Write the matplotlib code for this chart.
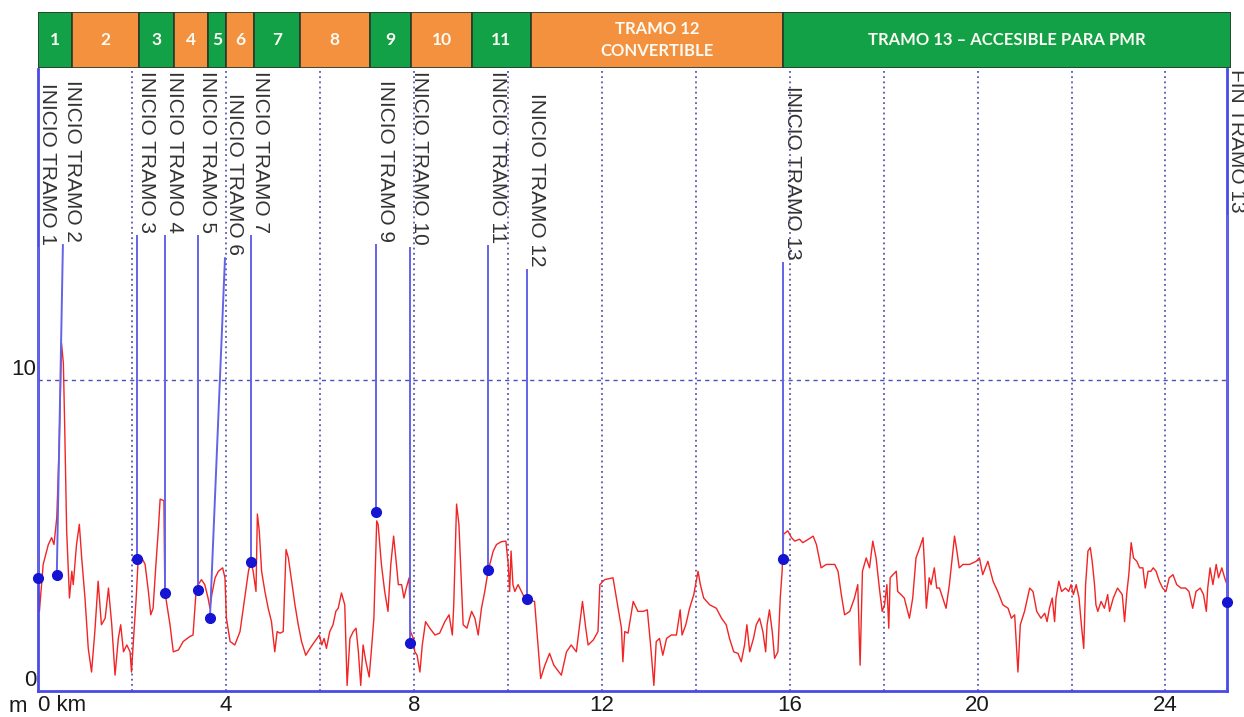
import matplotlib
matplotlib.use("Agg")
import matplotlib.pyplot as plt
from matplotlib.patches import Rectangle

# ── profile data (km, m) ─────────────────────────────────────────────
km = [
    0.00, 0.03, 0.11, 0.22, 0.29, 0.34, 0.40, 0.45, 0.50, 0.54, 0.57, 0.61, 0.67, 0.72, 0.75,
    0.82, 0.88, 0.93, 1.00, 1.07, 1.14, 1.21, 1.28, 1.35, 1.43, 1.50, 1.57, 1.64, 1.71, 1.76,
    1.82, 1.89, 1.96, 1.99, 2.03, 2.09, 2.13, 2.21, 2.28, 2.35, 2.40, 2.45, 2.51, 2.56, 2.60,
    2.68, 2.70, 2.81, 2.88, 2.99, 3.09, 3.23, 3.30, 3.36, 3.41, 3.48, 3.55, 3.62, 3.66, 3.70,
    3.77, 3.84, 3.93, 3.98, 4.01, 4.09, 4.19, 4.30, 4.40, 4.48, 4.53, 4.58, 4.64, 4.67, 4.71,
    4.76, 4.83, 4.90, 4.97, 5.04, 5.09, 5.15, 5.22, 5.28, 5.33, 5.40, 5.47, 5.54, 5.61, 5.70,
    5.79, 5.89, 5.99, 6.04, 6.09, 6.14, 6.21, 6.28, 6.34, 6.39, 6.46, 6.53, 6.58, 6.64, 6.71,
    6.77, 6.82, 6.87, 6.92, 6.98, 7.05, 7.10, 7.15, 7.21, 7.24, 7.31, 7.38, 7.45, 7.51, 7.57,
    7.63, 7.67, 7.74, 7.79, 7.84, 7.90, 7.93, 7.99, 8.02, 8.07, 8.13, 8.18, 8.25, 8.34, 8.45,
    8.55, 8.66, 8.75, 8.82, 8.85, 8.91, 8.96, 9.01, 9.05, 9.13, 9.23, 9.30, 9.37, 9.44, 9.51,
    9.58, 9.69, 9.76, 9.86, 9.96, 10.01, 10.04, 10.07, 10.11, 10.15, 10.22, 10.29, 10.36, 10.43, 10.57,
    10.65, 10.70, 10.79, 10.89, 10.98, 11.14, 11.25, 11.35, 11.46, 11.59, 11.66, 11.71, 11.82, 11.92, 11.96,
    12.06, 12.24, 12.35, 12.42, 12.45, 12.49, 12.56, 12.67, 12.77, 12.88, 12.97, 13.04, 13.11, 13.16, 13.23,
    13.30, 13.38, 13.48, 13.59, 13.67, 13.71, 13.79, 13.87, 13.96, 14.05, 14.10, 14.17, 14.30, 14.44, 14.55,
    14.65, 14.72, 14.81, 14.90, 14.97, 15.04, 15.09, 15.15, 15.23, 15.29, 15.36, 15.43, 15.49, 15.52, 15.57,
    15.63, 15.68, 15.75, 15.80, 15.84, 15.87, 15.96, 16.04, 16.11, 16.21, 16.28, 16.40, 16.50, 16.57, 16.67,
    16.78, 16.89, 16.96, 17.03, 17.10, 17.17, 17.28, 17.38, 17.45, 17.50, 17.55, 17.63, 17.70, 17.77, 17.84,
    17.91, 17.97, 18.02, 18.07, 18.11, 18.14, 18.20, 18.27, 18.30, 18.37, 18.44, 18.55, 18.62, 18.69, 18.77,
    18.84, 18.87, 18.91, 18.97, 19.01, 19.08, 19.13, 19.19, 19.26, 19.33, 19.40, 19.46, 19.51, 19.56, 19.61,
    19.69, 19.83, 19.97, 20.04, 20.11, 20.22, 20.33, 20.43, 20.54, 20.65, 20.72, 20.79, 20.86, 20.91, 21.00,
    21.11, 21.18, 21.26, 21.35, 21.43, 21.48, 21.53, 21.59, 21.64, 21.67, 21.73, 21.79, 21.87, 21.94, 21.99,
    22.04, 22.10, 22.16, 22.21, 22.26, 22.30, 22.35, 22.40, 22.44, 22.49, 22.52, 22.56, 22.63, 22.70, 22.77,
    22.81, 22.89, 22.98, 23.08, 23.13, 23.18, 23.22, 23.27, 23.32, 23.39, 23.45, 23.52, 23.57, 23.63, 23.69,
    23.74, 23.80, 23.87, 23.94, 24.01, 24.08, 24.16, 24.24, 24.33, 24.43, 24.50, 24.58, 24.65, 24.74, 24.81,
    24.87, 24.90, 24.95, 25.01, 25.08, 25.13, 25.20, 25.26, 25.31,
]
elev = [
    3.60, 2.56, 4.07, 4.71, 4.93, 4.71, 5.58, 7.84, 11.19, 10.54, 8.38, 5.15, 2.99, 3.85, 3.42,
    4.71, 5.36, 4.28, 2.99, 1.37, 0.61, 1.91, 3.53, 2.13, 2.34, 3.31, 2.13, 0.51, 1.69, 2.13,
    1.26, 1.48, 1.26, 0.61, 1.59, 2.99, 4.17, 4.28, 4.07, 3.20, 2.45, 2.66, 4.07, 5.15, 6.17,
    6.12, 3.20, 2.13, 1.26, 1.32, 1.59, 1.75, 1.80, 3.10, 3.42, 3.58, 3.42, 2.99, 2.66, 3.10,
    3.64, 3.85, 3.96, 3.64, 2.34, 1.59, 1.48, 1.91, 2.99, 3.85, 4.17, 3.85, 3.20, 5.69, 5.15,
    3.85, 3.20, 2.66, 2.23, 1.26, 1.91, 1.86, 1.91, 4.55, 4.28, 3.53, 2.77, 2.13, 1.59, 1.15,
    1.37, 1.59, 1.80, 1.48, 1.69, 1.37, 1.91, 2.13, 2.56, 2.66, 3.15, 2.77, 0.18, 1.69, 1.91,
    2.02, 1.26, 0.18, 1.48, 0.94, 0.45, 1.37, 2.34, 5.47, 5.36, 4.07, 3.20, 2.56, 4.07, 4.98,
    4.07, 3.42, 3.42, 2.99, 3.31, 3.64, 1.91, 1.69, 1.26, 1.15, 0.61, 1.48, 2.23, 2.02, 1.80,
    1.86, 2.23, 2.45, 1.80, 2.77, 6.01, 5.36, 3.53, 2.13, 2.02, 2.56, 2.34, 1.80, 2.66, 3.20,
    3.85, 4.50, 4.71, 4.80, 4.82, 4.07, 3.20, 4.50, 3.42, 3.20, 3.42, 3.20, 2.99, 2.93, 2.88,
    1.37, 0.40, 0.83, 1.21, 0.83, 0.51, 1.26, 1.48, 1.26, 2.88, 2.02, 1.48, 1.64, 1.91, 3.42,
    3.58, 3.64, 2.66, 2.02, 0.94, 1.91, 1.86, 2.88, 2.56, 2.56, 2.61, 1.48, 0.18, 1.59, 1.69,
    1.15, 1.69, 1.80, 1.80, 2.61, 1.80, 2.13, 2.66, 3.10, 3.85, 3.42, 2.99, 2.77, 2.66, 2.34,
    2.13, 1.69, 1.26, 1.21, 0.94, 1.48, 2.13, 1.26, 1.69, 2.13, 2.34, 1.91, 1.26, 2.13, 2.61,
    1.91, 1.05, 1.26, 2.99, 3.85, 5.04, 5.15, 4.93, 4.82, 4.88, 4.77, 4.88, 4.98, 4.71, 3.96,
    4.07, 4.07, 4.07, 3.85, 3.10, 2.45, 2.56, 2.99, 3.42, 0.83, 3.85, 4.28, 3.96, 4.82, 4.28,
    3.31, 2.56, 2.77, 3.42, 2.02, 3.64, 3.74, 3.85, 3.20, 3.10, 2.99, 2.34, 2.99, 4.28, 4.61,
    4.93, 4.07, 2.66, 3.64, 3.42, 3.96, 3.31, 3.31, 2.99, 2.66, 3.42, 4.28, 4.98, 4.50, 3.96,
    4.07, 4.07, 4.17, 4.28, 3.74, 4.17, 3.53, 3.20, 2.77, 2.66, 2.34, 2.45, 0.61, 2.13, 2.56,
    3.31, 3.20, 2.56, 2.34, 2.50, 2.23, 2.66, 2.99, 2.23, 2.99, 3.53, 3.20, 3.31, 3.20, 3.42,
    3.10, 3.42, 2.99, 2.13, 1.37, 3.42, 4.50, 4.61, 4.17, 3.42, 2.77, 2.56, 2.88, 2.66, 3.10,
    2.56, 2.99, 3.31, 3.10, 2.23, 3.20, 3.74, 4.77, 4.28, 4.17, 3.96, 3.96, 3.31, 3.85, 3.85,
    3.96, 3.85, 3.53, 3.31, 3.20, 3.64, 3.74, 3.42, 3.31, 3.31, 3.20, 2.66, 3.20, 3.31, 3.10,
    2.56, 3.31, 3.96, 3.42, 4.07, 3.64, 3.96, 3.64, 3.42,
]

# ── section start markers ────────────────────────────────────────────
marker_labels = [
    "INICIO TRAMO 1", "INICIO TRAMO 2", "INICIO TRAMO 3", "INICIO TRAMO 4",
    "INICIO TRAMO 5", "INICIO TRAMO 6", "INICIO TRAMO 7", "INICIO TRAMO 9",
    "INICIO TRAMO 10", "INICIO TRAMO 11", "INICIO TRAMO 12", "INICIO TRAMO 13",
    "FIN TRAMO 13",
]
marker_km = [0.0, 0.40, 2.11, 2.70, 3.41, 3.66, 4.53, 7.19, 7.92, 9.58, 10.41, 15.86, 25.31]
marker_elev = [3.64, 3.74, 4.26, 3.15, 3.26, 2.34, 4.15, 5.76, 1.53, 3.88, 2.96, 4.25, 2.86]

# where each rotated label sits (km of its left edge, elevation of its top)
label_km = [0.0, 0.53, 2.11, 2.70, 3.41, 3.98, 4.53, 7.19, 7.92, 9.58, 10.41, 15.86, 25.31]
label_top = [19.55, 19.64, 19.94, 19.94, 19.94, 19.22, 19.94, 19.64, 19.94, 19.94, 19.22, 19.45, 20.0]

# ── header band with sections ────────────────────────────────────────
tramo_edges = [0.0, 0.72, 2.15, 2.89, 3.62, 4.0, 4.60, 5.57, 7.06, 7.94, 9.23, 10.49, 15.85, 25.38]
tramo_names = ["1", "2", "3", "4", "5", "6", "7", "8", "9", "10", "11",
               "TRAMO 12\nCONVERTIBLE", "TRAMO 13 – ACCESIBLE PARA PMR"]
tramo_kind = ["acc", "conv", "acc", "conv", "acc", "conv", "acc", "conv",
              "acc", "conv", "acc", "conv", "acc"]

x_ticks = [0, 4, 8, 12, 16, 20, 24]
x_tick_labels = ["0 km", "4", "8", "12", "16", "20", "24"]
x_grid = [2, 4, 6, 8, 10, 12, 14, 16, 18, 20, 22, 24]
y_ticks = [0, 10, 20]

GREEN = "#12a146"
ORANGE = "#f4913f"
BLUE = "#4a4ae6"
GRID = "#3a3aa8"

plt.rcParams["font.family"] = ["Liberation Sans", "DejaVu Sans"]

W, H = 1244, 717
fig = plt.figure(figsize=(W / 100, H / 100), dpi=100)
ax = fig.add_axes([38 / W, 1 - 691 / H, (1227 - 38) / W, (691 - 69) / H])
ax.set_xlim(0, 25.31)
ax.set_ylim(0, 20)

for g in x_grid:
    ax.axvline(g, color=GRID, lw=1.1, ls=(0, (1.2, 2.2)), zorder=1)
ax.axhline(10, color="#5050b8", lw=1.0, ls=(0, (3, 3)), zorder=1)

ax.plot(km, elev, color="#f22424", lw=1.0, zorder=2)

for s in ["left", "bottom", "right"]:
    ax.spines[s].set_color(BLUE)
    ax.spines[s].set_linewidth(2.0)
ax.spines["top"].set_visible(False)

ax.set_xticks(x_ticks)
ax.set_xticklabels(x_tick_labels)
ax.get_xticklabels()[0].set_horizontalalignment("left")
ax.set_yticks(y_ticks)
ax.set_yticklabels([str(t) for t in y_ticks], va="bottom")
ax.tick_params(axis="both", length=0, labelsize=16, colors="#1a1a1a")
ax.tick_params(axis="x", pad=3)
ax.tick_params(axis="y", pad=1)

fig.text(18 / W, 1 - 707 / H, "m", ha="center", va="center", fontsize=16, color="#1a1a1a")

# rotated labels
texts = []
for name, lx, ly in zip(marker_labels, label_km, label_top):
    t = ax.text(lx, ly, name, rotation=270, ha="left", va="top",
                fontsize=15, color="#333333", zorder=5, clip_on=False)
    texts.append(t)

fig.canvas.draw()
inv = ax.transData.inverted()
for t, mx, my, lx in zip(texts, marker_km, marker_elev, label_km):
    bb = t.get_window_extent()
    y_bot = inv.transform((0, bb.y0 - 3))[1]
    ax.plot([mx, lx], [my, y_bot], color="#6363e8", lw=1.4, zorder=3, clip_on=False)
ax.plot(marker_km, marker_elev, ls="none", marker="o", ms=7,
        color="#1414d2", zorder=4, clip_on=False)

# white margin above the plot, then the header band
cover = Rectangle((0, 1 - 66 / H), 1, 66 / H, transform=fig.transFigure,
                  facecolor="white", edgecolor="none", zorder=10)
fig.patches.append(cover)

hx = fig.add_axes([38 / W, 1 - 68 / H, (1231 - 38) / W, 56 / H])
hx.set_zorder(20)
hx.set_xlim(tramo_edges[0], tramo_edges[-1])
hx.set_ylim(0, 1)
hx.axis("off")
widths = [b - a for a, b in zip(tramo_edges[:-1], tramo_edges[1:])]
colors = [GREEN if k == "acc" else ORANGE for k in tramo_kind]
hx.bar(tramo_edges[:-1], [1] * len(widths), width=widths, align="edge",
       color=colors, edgecolor="#2a3a2a", linewidth=1.2)
for a, w, name in zip(tramo_edges[:-1], widths, tramo_names):
    size = 12.5 if len(name) <= 2 else 12
    hx.text(a + w / 2, 0.5, name, ha="center", va="center", color="#fbfbf4",
            fontsize=size, fontweight="bold", family=["Lato", "DejaVu Sans"],
            linespacing=1.45)

fig.savefig("out.png", dpi=100)
